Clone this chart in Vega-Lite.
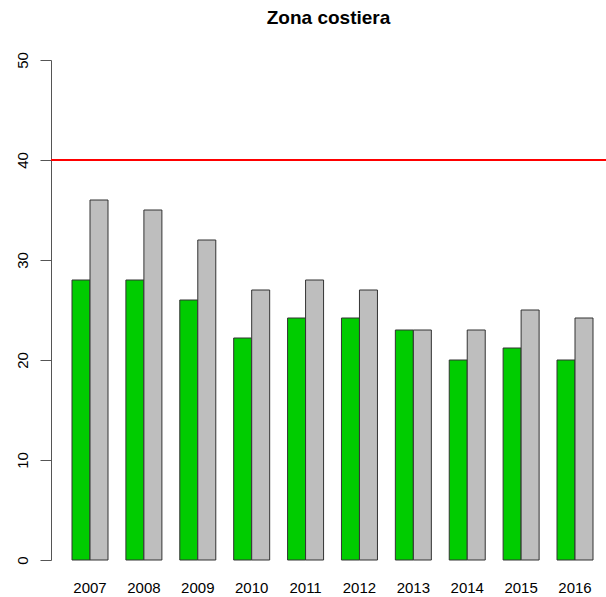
{
  "$schema": "https://vega.github.io/schema/vega-lite/v6.json",
  "width": 555,
  "height": 500,
  "autosize": "none",
  "padding": {"left": 51, "top": 60, "right": 0, "bottom": 37},
  "background": "white",
  "config": {"view": {"stroke": null}, "font": "Liberation Sans"},
  "title": {"text": "Zona costiera", "font": "Liberation Sans", "fontSize": 19, "fontWeight": "bold", "color": "#000000", "anchor": "middle", "offset": 24},
  "data": {"values": [
    {"year": "2007", "series": "A", "value": 28},
    {"year": "2007", "series": "B", "value": 36},
    {"year": "2008", "series": "A", "value": 28},
    {"year": "2008", "series": "B", "value": 35},
    {"year": "2009", "series": "A", "value": 26},
    {"year": "2009", "series": "B", "value": 32},
    {"year": "2010", "series": "A", "value": 22.2},
    {"year": "2010", "series": "B", "value": 27},
    {"year": "2011", "series": "A", "value": 24.2},
    {"year": "2011", "series": "B", "value": 28},
    {"year": "2012", "series": "A", "value": 24.2},
    {"year": "2012", "series": "B", "value": 27},
    {"year": "2013", "series": "A", "value": 23},
    {"year": "2013", "series": "B", "value": 23},
    {"year": "2014", "series": "A", "value": 20},
    {"year": "2014", "series": "B", "value": 23},
    {"year": "2015", "series": "A", "value": 21.2},
    {"year": "2015", "series": "B", "value": 25},
    {"year": "2016", "series": "A", "value": 20},
    {"year": "2016", "series": "B", "value": 24.2}
  ]},
  "layer": [
    {
      "mark": {"type": "bar", "stroke": "#333333", "strokeWidth": 1},
      "encoding": {
        "x": {"field": "year", "type": "nominal", "title": null,
              "scale": {"paddingInner": 0.332, "paddingOuter": 0.3155, "align": 0.618},
              "axis": {"domain": false, "ticks": false, "labelAngle": 0, "labelFontSize": 15, "labelColor": "#000000", "labelPadding": 20, "labelFont": "Liberation Sans"}},
        "xOffset": {"field": "series", "type": "nominal", "scale": {"paddingInner": 0, "paddingOuter": 0}},
        "y": {"field": "value", "type": "quantitative", "title": null,
              "scale": {"domain": [0, 50], "nice": false, "zero": true},
              "axis": {"values": [0, 10, 20, 30, 40, 50], "grid": false, "domainColor": "#555555", "tickColor": "#555555", "tickSize": 11, "labelAngle": -90, "labelAlign": "center", "labelBaseline": "bottom", "labelPadding": 10, "labelFontSize": 15, "labelColor": "#000000", "labelFont": "Liberation Sans"}},
        "color": {"field": "series", "type": "nominal", "scale": {"domain": ["A", "B"], "range": ["#00CC00", "#BEBEBE"]}, "legend": null}
      }
    },
    {
      "mark": {"type": "rule", "color": "#FF0000", "strokeWidth": 2},
      "encoding": {"y": {"datum": 40, "type": "quantitative"}}
    }
  ]
}
